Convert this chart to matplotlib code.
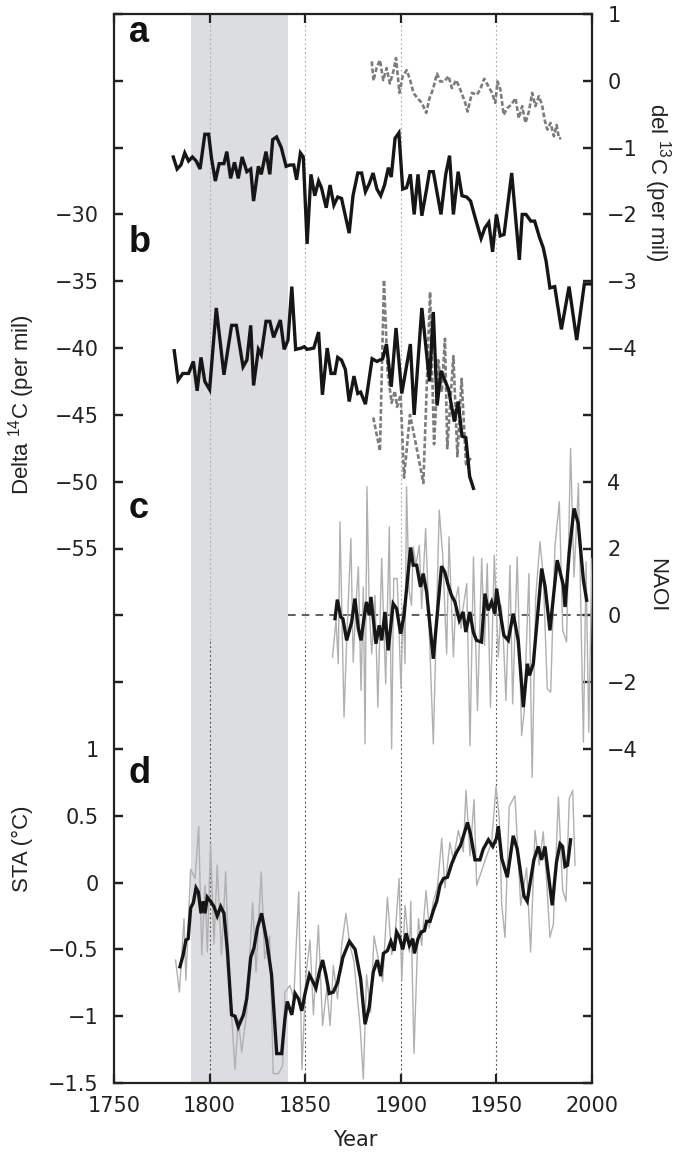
import numpy as np
import matplotlib
matplotlib.use("Agg")
import matplotlib.pyplot as plt
from matplotlib.ticker import MultipleLocator, FuncFormatter

plt.rcParams['font.family'] = ['DejaVu Sans']
plt.rcParams['mathtext.default'] = 'regular'

# ---------------- data ----------------
# panel a: Delta14C (black) and del13C (grey dashed)
a_years = [1781, 1783, 1785, 1787, 1789, 1791, 1793, 1795, 1797.5, 1799.5,
           1801, 1803, 1805, 1807.5, 1809, 1811, 1813, 1815, 1817, 1819.5,
           1821.5, 1823, 1825.5, 1827, 1829.5, 1831.5, 1833, 1835, 1837.5, 1840,
           1842, 1844, 1845.5, 1847.5, 1849, 1851, 1853, 1855, 1857, 1858.5,
           1861, 1863, 1865, 1867, 1869, 1873, 1875, 1877.5, 1879.5, 1881.5,
           1883.5, 1885.5, 1887.5, 1889.5, 1891.5, 1893.5, 1895, 1897, 1899, 1901,
           1903, 1905, 1907, 1909, 1911, 1913.5, 1915, 1917, 1919, 1921,
           1923.5, 1925.5, 1927.5, 1930, 1932, 1934.5, 1936.5, 1939, 1942, 1944,
           1946, 1948, 1950, 1952, 1954, 1958, 1962, 1963.5, 1965.5, 1968,
           1970, 1972.5, 1974.5, 1976, 1978, 1980.5, 1984, 1988, 1992, 1996, 2000]
a_d14 = [-25.7, -26.6, -26.3, -25.4, -26.0, -25.7, -26.0, -26.6, -24.0, -24.0,
         -25.8, -27.5, -26.2, -26.2, -25.3, -27.3, -26.1, -27.3, -25.7, -26.8,
         -26.6, -29.0, -26.4, -27.0, -25.3, -27.0, -24.4, -24.2, -25.0, -26.4,
         -26.3, -26.3, -27.4, -25.4, -25.7, -32.2, -27.0, -28.6, -27.5, -28.0,
         -29.5, -27.8, -29.3, -28.7, -28.8, -31.4, -28.6, -26.9, -26.9, -28.3,
         -27.7, -26.9, -28.1, -28.6, -27.8, -26.5, -27.2, -24.3, -23.9, -28.1,
         -28.0, -27.0, -30.0, -27.0, -30.1, -28.1, -26.8, -26.8, -28.4, -30.0,
         -27.0, -25.6, -30.0, -26.8, -28.6, -28.7, -29.0, -30.3, -31.8, -31.0,
         -30.6, -32.8, -30.0, -31.6, -31.5, -26.9, -33.4, -30.0, -30.0, -30.5,
         -30.5, -31.7, -32.5, -33.5, -35.5, -35.4, -38.6, -35.4, -39.4, -35.2, -35.2]

d13_years = [1884.8, 1885.7, 1887.4, 1889.1, 1890.8, 1892.6, 1894.3, 1896.1, 1897.5, 1899.3,
             1901, 1903.1, 1904.9, 1906.6, 1908.7, 1911, 1913.3, 1915, 1916.8, 1918.9,
             1920.6, 1922.7, 1925, 1926.7, 1929, 1931.1, 1933.7, 1934.9, 1937.2, 1939.8,
             1941.5, 1943.6, 1945, 1947.7, 1949.4, 1950.6, 1952.1, 1953.8, 1955.6, 1957.7,
             1960, 1961.7, 1963.5, 1965.2, 1967, 1968.7, 1970.4, 1972.2, 1973.9, 1975.2,
             1976.6, 1978.3, 1980.1, 1981.5, 1982.7, 1983.9]
d13_vals = [0.29, 0.0, 0.2, 0.31, 0.01, 0.19, -0.04, 0.14, 0.34, -0.18,
            0.07, 0.16, 0.01, -0.18, -0.26, -0.33, -0.48, -0.26, -0.13, 0.11,
            -0.01, -0.01, 0.07, -0.11, 0.01, -0.13, -0.33, -0.46, -0.18, -0.21,
            -0.13, 0.03, -0.04, -0.18, -0.33, -0.01, -0.13, -0.51, -0.41, -0.36,
            -0.26, -0.56, -0.38, -0.63, -0.46, -0.18, -0.38, -0.23, -0.36, -0.58,
            -0.73, -0.63, -0.83, -0.66, -0.86, -0.86]

# panel b: Delta14C (black) and second record (grey dashed)
b_years = [1781.5, 1783.5, 1786, 1789, 1791.5, 1793.5, 1795.5, 1797.5, 1800, 1803.5,
           1807.5, 1811.5, 1814, 1817.5, 1819.5, 1821.5, 1823, 1825.5, 1827, 1829.5,
           1831.5, 1833.5, 1837, 1839, 1841, 1843, 1845, 1848, 1849.5, 1851,
           1854.5, 1857, 1859, 1861.5, 1863.5, 1865.5, 1867, 1869, 1871, 1873,
           1875.5, 1877.5, 1879, 1881.5, 1885, 1887.5, 1890.5, 1892.5, 1895, 1897.5,
           1900.5, 1905, 1907, 1911, 1915, 1917, 1919, 1921, 1925, 1928,
           1930, 1932, 1934, 1936, 1938]
b_d14 = [-40.2, -42.4, -41.9, -41.9, -41.0, -43.2, -40.7, -42.5, -43.1, -37.0,
         -42.0, -38.3, -38.3, -41.4, -40.9, -38.3, -42.8, -40.1, -40.5, -38.0,
         -38.0, -39.2, -37.9, -40.1, -39.4, -35.4, -40.1, -40.0, -39.9, -40.1,
         -40.0, -38.8, -43.5, -40.0, -41.9, -41.9, -40.7, -40.9, -41.6, -44.0,
         -42.1, -43.4, -43.3, -44.2, -40.8, -41.0, -40.8, -39.7, -42.9, -38.5,
         -43.4, -39.7, -45.0, -37.0, -42.5, -37.3, -44.3, -41.7, -43.1, -45.5,
         -44.0, -46.6, -46.7, -49.6, -50.5]

b2_years = [1885.6, 1889.1, 1891.2, 1893.1, 1895.2, 1896.9, 1898, 1899.9, 1901.7, 1904.8,
            1907.9, 1911.8, 1915.3, 1917.4, 1919.6, 1921.4, 1923.1, 1924.3, 1927.5, 1929.6,
            1931.8, 1934.1, 1937.4]
b2_d14 = [-45.2, -47.7, -34.9, -41.8, -44.1, -43.2, -44.4, -43.5, -49.7, -45.0,
          -47.2, -50.1, -35.8, -47.2, -40.9, -43.3, -39.3, -47.5, -40.6, -48.1,
          -42.3, -48.7, -48.1]

# panel c: NAO index, annual (grey) and smoothed (black)
nao_years = [1864.3, 1866.1, 1867.3, 1868.2, 1870.3, 1871.7, 1873.9, 1875.1, 1876.5, 1877.8,
             1879.2, 1880.4, 1881.3, 1882.3, 1883.5, 1884.8, 1886.5, 1888, 1890, 1892.1,
             1894, 1895.2, 1896.3, 1898.1, 1900.1, 1901.2, 1902.2, 1903, 1904.3, 1905.6,
             1906.5, 1907.9, 1909.7, 1910.9, 1913, 1915.3, 1917, 1920.1, 1921.9, 1924,
             1925.2, 1927.5, 1928.8, 1930.1, 1931.5, 1932.5, 1934.5, 1936.2, 1938, 1940.1,
             1942.3, 1943.8, 1945.2, 1946.9, 1948.9, 1951, 1952.5, 1953.5, 1955, 1957.1,
             1958.5, 1960.9, 1963.2, 1964.5, 1967, 1968.7, 1970.5, 1972.8, 1974.5, 1976.6,
             1978.4, 1980.6, 1982.9, 1984.7, 1986.7, 1988.8, 1990.6, 1992.9, 1995.5, 1996.9,
             1998.3, 2000]
nao_annual = [-1.25, -0.15, -1.45, 2.8, -3.05, -0.75, 2.3, -1.4, 0.3, 1.45,
              -2.25, 0.85, -3.85, 3.85, 0.2, -1.15, 0.6, -2.75, 1.7, -2.05,
              2.65, -4.0, 1.1, 1.1, -2.2, 0.3, -1.45, 3.85, 0.75, 0.3,
              2.05, 1.5, 2.1, 0.2, 2.6, -1.15, -3.85, 3.15, 1.8, -1.15,
              2.35, -1.25, 0.5, 0.85, -0.4, 0.2, 0.95, -3.9, 1.75, -2.85,
              1.7, -0.9, 1.55, -2.75, 1.8, -1.25, 0.3, -0.5, -2.55, 1.5,
              -2.65, 1.75, -3.6, -2.9, 1.25, -4.85, 0.5, 2.2, 1.2, -2.2,
              -2.3, 2.05, 3.4, -0.45, -0.8, 5.0, 1.15, 3.95, -3.8, 1.6,
              -3.5, 1.7]
naos_years = [1865.6, 1866.8, 1868.6, 1869.7, 1871.7, 1874.3, 1876, 1877.8, 1879.2, 1880.5,
              1882, 1883.5, 1884.4, 1887, 1888.7, 1890, 1891.7, 1893.4, 1896, 1897.8,
              1899.9, 1901.7, 1905.1, 1906.5, 1908.3, 1910.3, 1911.7, 1913.5, 1917, 1921.3,
              1923, 1924.8, 1926.5, 1928.3, 1930.6, 1932.6, 1934, 1936.1, 1937.9, 1939.6,
              1942.2, 1944, 1945.7, 1947.5, 1949.2, 1950.1, 1952.2, 1953.9, 1956.2, 1958.8,
              1961.4, 1964.1, 1966.2, 1967.3, 1969.3, 1973.7, 1975.5, 1978, 1981.8, 1985,
              1985.9, 1988.1, 1990.6, 1992.8, 1995.5, 1997.2]
nao_smooth = [-0.1, 0.47, -0.05, -0.1, -0.75, -0.2, 0.5, -0.4, -0.75, -0.2,
              0.4, 0.0, 0.55, -0.85, -0.3, -0.75, 0.1, -1.05, 0.35, 0.2,
              -0.55, 0.0, 2.03, 1.5, 1.5, 0.85, 1.25, 0.7, -1.3, 1.47,
              1.3, 0.9, 0.6, 0.4, -0.15, 0.1, -0.5, 0.1, -0.5, -0.75,
              -0.8, 0.65, 0.15, 0.4, 0.05, 0.8, 0.0, -0.6, -0.75, 0.05,
              -0.75, -2.75, -1.45, -1.8, -1.45, 1.4, 0.85, -0.45, 1.65, 0.9,
              0.25, 1.9, 3.2, 2.75, 1.05, 0.45]

# panel d: STA, annual (grey) and smoothed (black)
sta_years = [1782.2, 1784.2, 1786.6, 1787.6, 1788.5, 1790.1, 1792.4, 1794.3, 1795.9, 1797.6,
             1798.8, 1800.5, 1802.3, 1804.0, 1806.2, 1808.4, 1810.5, 1813.3, 1815.0, 1816.8,
             1819.4, 1822.5, 1824.3, 1827.0, 1828.8, 1831.4, 1833.3, 1836.0, 1838.2, 1839.4,
             1842.0, 1844.0, 1846.6, 1848.3, 1850.4, 1852.5, 1854.3, 1856.9, 1859.1, 1861.3,
             1863.0, 1864.7, 1866.9, 1869.1, 1871.3, 1873.4, 1875.5, 1878.7, 1880.4, 1882.1,
             1884.2, 1886.0, 1888.2, 1890.5, 1893.0, 1895.2, 1897.0, 1899.1, 1900.5, 1902.2,
             1904.5, 1905.2, 1906.9, 1909.2, 1910.9, 1913.2, 1914.9, 1917.0, 1919.1, 1921.4,
             1923.1, 1925.7, 1927.5, 1930.1, 1932.7, 1934.1, 1936.2, 1938.3, 1939.7, 1942.8,
             1944.9, 1947.5, 1949.8, 1951.5, 1952.8, 1954.5, 1956.7, 1959.7, 1962.7, 1965.8,
             1967.9, 1970.2, 1972.4, 1974.5, 1976.3, 1978.0, 1979.8, 1982.4, 1984.7, 1986.4,
             1988.1, 1989.9, 1991.1]
sta_annual = [-0.58, -0.82, -0.27, -0.73, -0.43, 0.10, 0.03, 0.42, -0.54, -0.02,
              -0.52, 0.29, -0.46, 0.13, -0.54, 0.08, -0.77, -1.40, -1.02, -1.27,
              -0.97, -0.15, -0.67, 0.08, -0.57, -0.40, -1.43, -1.43, -1.37, -0.82,
              -0.77, -0.87, -0.07, -1.40, -0.69, -0.43, -0.99, -0.32, -1.07, -0.79,
              -1.07, -0.62, -0.87, -0.47, -0.23, -0.47, -0.59, -1.07, -1.47, -0.69,
              -0.97, -0.40, -0.57, -0.74, -0.11, -0.54, -0.40, 0.03, -0.73, -0.17,
              -0.52, -0.14, -1.28, -0.27, -0.47, -0.06, -0.34, -0.14, -0.04, 0.33,
              -0.04, 0.30, 0.17, 0.39, 0.23, 0.69, 0.20, 0.62, -0.02, 0.11,
              0.20, 0.30, 0.72, 0.48, -0.17, -0.41, 0.57, 0.65, -0.17, 0.11,
              -0.52, 0.39, 0.13, 0.38, 0.00, -0.41, -0.31, 0.64, -0.06, -0.14,
              0.63, 0.69, 0.13]
stas_years = [1784.5, 1786.2, 1787.6, 1788.8, 1790.1, 1791.5, 1792.9, 1794.1, 1795.5, 1796.7,
              1797.6, 1798.8, 1800.5, 1802.3, 1804, 1805.8, 1807.5, 1809.3, 1811.5, 1813.3,
              1815, 1817.7, 1819.4, 1821.5, 1823.2, 1825, 1827.2, 1829.8, 1832.4, 1835.1,
              1837.7, 1839.4, 1840.6, 1843, 1844.7, 1846.5, 1848.2, 1849.9, 1852.2, 1854,
              1855.6, 1857.4, 1859.1, 1860.8, 1862.6, 1864.7, 1866.9, 1868.7, 1869.7, 1873.1,
              1876.1, 1879, 1881.3, 1883.5, 1885.6, 1887.7, 1889.5, 1890.9, 1893, 1894.8,
              1896.5, 1897.8, 1899.3, 1901, 1902.8, 1904.5, 1906.3, 1907.1, 1909, 1910.7,
              1912.4, 1913.5, 1915.3, 1917, 1918.8, 1920.5, 1922.3, 1924.4, 1926.6, 1928.9,
              1931.3, 1933, 1934.9, 1936.5, 1938.8, 1941.4, 1943.1, 1945.8, 1948.1, 1950,
              1951, 1952.8, 1955.7, 1958.8, 1960.9, 1964.4, 1966.1, 1967.9, 1969.6, 1971.9,
              1973.6, 1975.4, 1977.1, 1979.2, 1981.4, 1983.3, 1984.6, 1985.9, 1987.2, 1988.8]
sta_smooth = [-0.63, -0.54, -0.43, -0.42, -0.19, -0.15, -0.04, -0.07, -0.23, -0.14,
              -0.23, -0.11, -0.14, -0.18, -0.25, -0.18, -0.23, -0.51, -0.99, -1.0,
              -1.08, -0.99, -0.87, -0.56, -0.49, -0.34, -0.23, -0.43, -0.69, -1.28,
              -1.28, -1.02, -0.89, -0.99, -0.83, -0.87, -0.96, -0.83, -0.69, -0.74,
              -0.79, -0.67, -0.58, -0.69, -0.83, -0.82, -0.75, -0.63, -0.56, -0.44,
              -0.5, -0.72, -1.06, -0.93, -0.67, -0.58, -0.7, -0.53, -0.51, -0.44,
              -0.51, -0.37, -0.41, -0.5, -0.38, -0.47, -0.42, -0.53, -0.42, -0.37,
              -0.36, -0.29, -0.29, -0.21, -0.14, -0.02, 0.03, 0.04, 0.14, 0.22,
              0.28, 0.36, 0.45, 0.36, 0.17, 0.17, 0.25, 0.32, 0.27, 0.33,
              0.42, 0.18, 0.04, 0.35, 0.25, -0.1, -0.14, 0.02, 0.17, 0.27,
              0.17, 0.27, 0.07, -0.17, 0.15, 0.29, 0.27, 0.12, 0.13, 0.32]

shade_span = (1790.5, 1841)
ref_years = [1800, 1850, 1900, 1950]
panel_labels = ['a', 'b', 'c', 'd']

# ---------------- figure ----------------
W, H = 685, 1157
fig = plt.figure(figsize=(W / 100, H / 100), dpi=100)
rect = [114 / W, 1 - 1083 / H, (592 - 114) / W, (1083 - 14) / H]

ax = fig.add_axes(rect)          # Delta14C (left)
ax_sta = ax.twinx()              # STA (left)
ax_d13 = ax.twinx()              # del13C (right)
ax_nao = ax.twinx()              # NAOI (right)

ax.set_xlim(1750, 2000)
ax.set_ylim(-95, -15)
ax_sta.set_ylim(-1.5, 6.5)
ax_d13.set_ylim(-15, 1)
ax_nao.set_ylim(-14, 18)

ax_sta.yaxis.tick_left()
ax_sta.yaxis.set_label_position('left')

BLACK = '#161616'
GREY_THIN = '#b0b0b0'
GREY_DASH = '#7c7c7c'

# background
ax.axvspan(*shade_span, color='#dcdde0', lw=0, zorder=0)
for yr in ref_years:
    ax.axvline(yr, ymin=0.414, ymax=1, color='#a8a8a8', lw=0.8,
               ls=(0, (1.5, 2.5)), zorder=1)
    ax.axvline(yr, ymin=0, ymax=0.414, color='#444444', lw=0.8,
               ls=(0, (1.5, 2.5)), zorder=1)

# panel a / b
ax.plot(a_years, a_d14, color=BLACK, lw=2.4, zorder=3, solid_joinstyle='miter')
ax.plot(b2_years, b2_d14, color=GREY_DASH, lw=1.9, ls=(0, (1.8, 0.9)), zorder=3)
ax.plot(b_years, b_d14, color=BLACK, lw=2.4, zorder=4, solid_joinstyle='miter')
ax_d13.plot(d13_years, d13_vals, color=GREY_DASH, lw=1.9, ls=(0, (1.8, 0.9)))

# panel c
ax_nao.hlines(0, 1841, 2000, colors='#333333', lw=1.1, linestyles=(0, (5, 4)))
ax_nao.plot(nao_years, nao_annual, color=GREY_THIN, lw=1.0)
ax_nao.plot(naos_years, nao_smooth, color=BLACK, lw=2.4, solid_joinstyle='miter')

# panel d
ax_sta.plot(sta_years, sta_annual, color=GREY_THIN, lw=1.0)
ax_sta.plot(stas_years, sta_smooth, color=BLACK, lw=2.4, solid_joinstyle='miter')


def mk_fmt(lo, hi):
    def f(v, pos):
        if lo - 1e-6 <= v <= hi + 1e-6:
            if abs(v) < 1e-9:
                v = 0.0
            return f"{v:g}".replace('-', '\u2212')
        return ''
    return FuncFormatter(f)


ax.yaxis.set_major_locator(MultipleLocator(5))
ax.yaxis.set_major_formatter(mk_fmt(-55, -30))
ax_sta.yaxis.set_major_locator(MultipleLocator(0.5))
ax_sta.yaxis.set_major_formatter(mk_fmt(-1.5, 1))
ax_d13.yaxis.set_major_locator(MultipleLocator(1))
ax_d13.yaxis.set_major_formatter(mk_fmt(-4, 1))
ax_nao.yaxis.set_major_locator(MultipleLocator(2))
ax_nao.yaxis.set_major_formatter(mk_fmt(-4, 4))
ax.xaxis.set_major_locator(MultipleLocator(50))

tick_kw = dict(direction='in', length=6.5, width=1.6, color='#222222',
               labelsize=15, labelcolor='#222222')
ax.tick_params(axis='x', top=True, pad=9, **tick_kw)
for a_ in (ax, ax_sta):
    a_.tick_params(axis='y', left=True, right=False, pad=11, **tick_kw)
for a_ in (ax_d13, ax_nao):
    a_.tick_params(axis='y', right=True, left=False, pad=11, **tick_kw)

for s in ax.spines.values():
    s.set_linewidth(1.6)
    s.set_color('#222222')
for a_ in (ax_sta, ax_d13, ax_nao):
    for s in a_.spines.values():
        s.set_visible(False)

# axis labels
lab_font = ['Liberation Sans Narrow', 'Liberation Sans', 'DejaVu Sans']
fig.text(22 / W, 1 - 405 / H, 'Delta $^{14}$C (per mil)', rotation=90,
         ha='center', va='center', fontsize=16, family=lab_font, color='#222222')
fig.text(22 / W, 1 - 849 / H, 'STA (\u00b0C)', rotation=90,
         ha='center', va='center', fontsize=16, family=lab_font, color='#222222')
fig.text(657 / W, 1 - 182 / H, 'del $^{13}$C (per mil)', rotation=270,
         ha='center', va='center', fontsize=16, family=lab_font, color='#222222')
fig.text(657 / W, 1 - 585 / H, 'NAOI', rotation=270,
         ha='center', va='center', fontsize=16, family=lab_font, color='#222222')
fig.text(355 / W, 1 - 1140 / H, 'Year', ha='center', va='center',
         fontsize=15, color='#222222')

# panel letters
letter_base = [42, 252, 518, 783]
for lab, yb in zip(panel_labels, letter_base):
    ax.text(15 / 478, (1083 - yb) / 1069, lab, transform=ax.transAxes,
            fontsize=26, fontweight='bold', family=['Liberation Sans', 'DejaVu Sans'],
            ha='left', va='baseline', color='#111111', zorder=10)

fig.savefig('out.png', dpi=100)
